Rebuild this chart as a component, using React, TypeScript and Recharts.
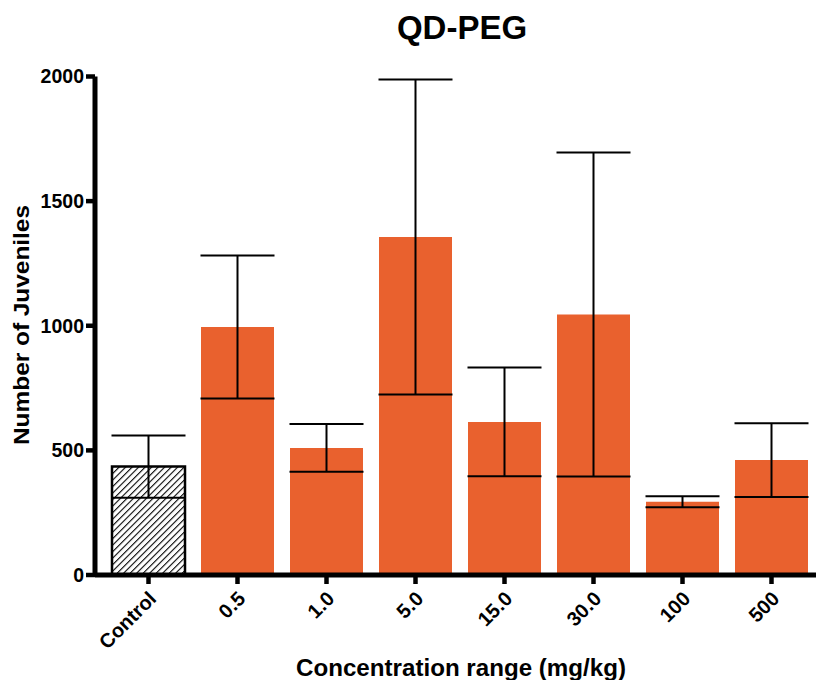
import React from 'react';
import { BarChart, Bar, XAxis, YAxis, ErrorBar, Cell } from 'recharts';

const categories = ['Control', '0.5', '1.0', '5.0', '15.0', '30.0', '100', '500'];
const means = [435, 995, 510, 1356, 614, 1045, 294, 461];
const errors = [125, 287, 96, 632, 218, 650, 22, 148];
const yTicks = [0, 500, 1000, 1500, 2000];

const data = categories.map((name, i) => ({ name, value: means[i], err: errors[i] }));

const FONT = '"Liberation Sans", Arial, Helvetica, sans-serif';
const ORANGE = '#E9612E';

const XTick = (props: any) => {
  const { x, y, payload } = props;
  const ax = x + 9;
  const ay = y + 14;
  return (
    <text
      x={ax}
      y={ay}
      transform={`rotate(-45, ${ax}, ${ay})`}
      textAnchor="end"
      fontFamily={FONT}
      fontWeight="bold"
      fontSize={20}
      fill="#000"
    >
      {payload.value}
    </text>
  );
};

export default function App() {
  return (
    <div style={{ position: 'absolute', left: 0, top: 0, width: 816, height: 680, background: '#fff' }}>
      <BarChart
        width={816}
        height={680}
        data={data}
        margin={{ top: 76.5, right: 0, bottom: 45, left: 0 }}
        barSize={73}
      >
        <defs>
          <pattern id="hatch" patternUnits="userSpaceOnUse" width="4.6" height="4.6" patternTransform="rotate(45)">
            <rect width="4.6" height="4.6" fill="#fff" />
            <line x1="0" y1="0" x2="0" y2="4.6" stroke="#000" strokeWidth="2.2" />
          </pattern>
        </defs>
        <XAxis
          dataKey="name"
          interval={0}
          height={60}
          padding={{ left: 9, right: 0 }}
          axisLine={{ stroke: '#000', strokeWidth: 5 }}
          tickLine={{ stroke: '#000', strokeWidth: 4.5 }}
          tickSize={9}
          tick={<XTick />}
        />
        <YAxis
          width={95}
          domain={[0, 2000]}
          ticks={yTicks}
          interval={0}
          axisLine={{ stroke: '#000', strokeWidth: 5 }}
          tickLine={{ stroke: '#000', strokeWidth: 4.5 }}
          tickSize={9}
          tickMargin={2}
          tick={{ fontFamily: FONT, fontWeight: 'bold', fontSize: 19.5, fill: '#000' }}
        />
        <Bar dataKey="value" fill={ORANGE} isAnimationActive={false}>
          {data.map((d, i) => (
            <Cell
              key={d.name}
              fill={i === 0 ? 'url(#hatch)' : ORANGE}
              stroke={i === 0 ? '#000' : 'none'}
              strokeWidth={i === 0 ? 2.5 : 0}
            />
          ))}
          <ErrorBar dataKey="err" width={37} stroke="#000" strokeWidth={2} direction="y" />
        </Bar>
      </BarChart>
      <svg
        width={816}
        height={680}
        style={{ position: 'absolute', left: 0, top: 0, pointerEvents: 'none' }}
      >
        <text x={462} y={38.5} textAnchor="middle" fontFamily={FONT} fontWeight="bold" fontSize={33} fill="#000">
          QD-PEG
        </text>
        <text
          x={0}
          y={0}
          transform="translate(29, 325) rotate(-90)"
          textAnchor="middle"
          fontFamily={FONT}
          fontWeight="bold"
          fontSize={22}
          textLength={240}
          lengthAdjust="spacingAndGlyphs"
          fill="#000"
        >
          Number of Juveniles
        </text>
        <text
          x={461}
          y={676}
          textAnchor="middle"
          fontFamily={FONT}
          fontWeight="bold"
          fontSize={23}
          textLength={330}
          lengthAdjust="spacingAndGlyphs"
          fill="#000"
        >
          Concentration range (mg/kg)
        </text>
      </svg>
    </div>
  );
}
